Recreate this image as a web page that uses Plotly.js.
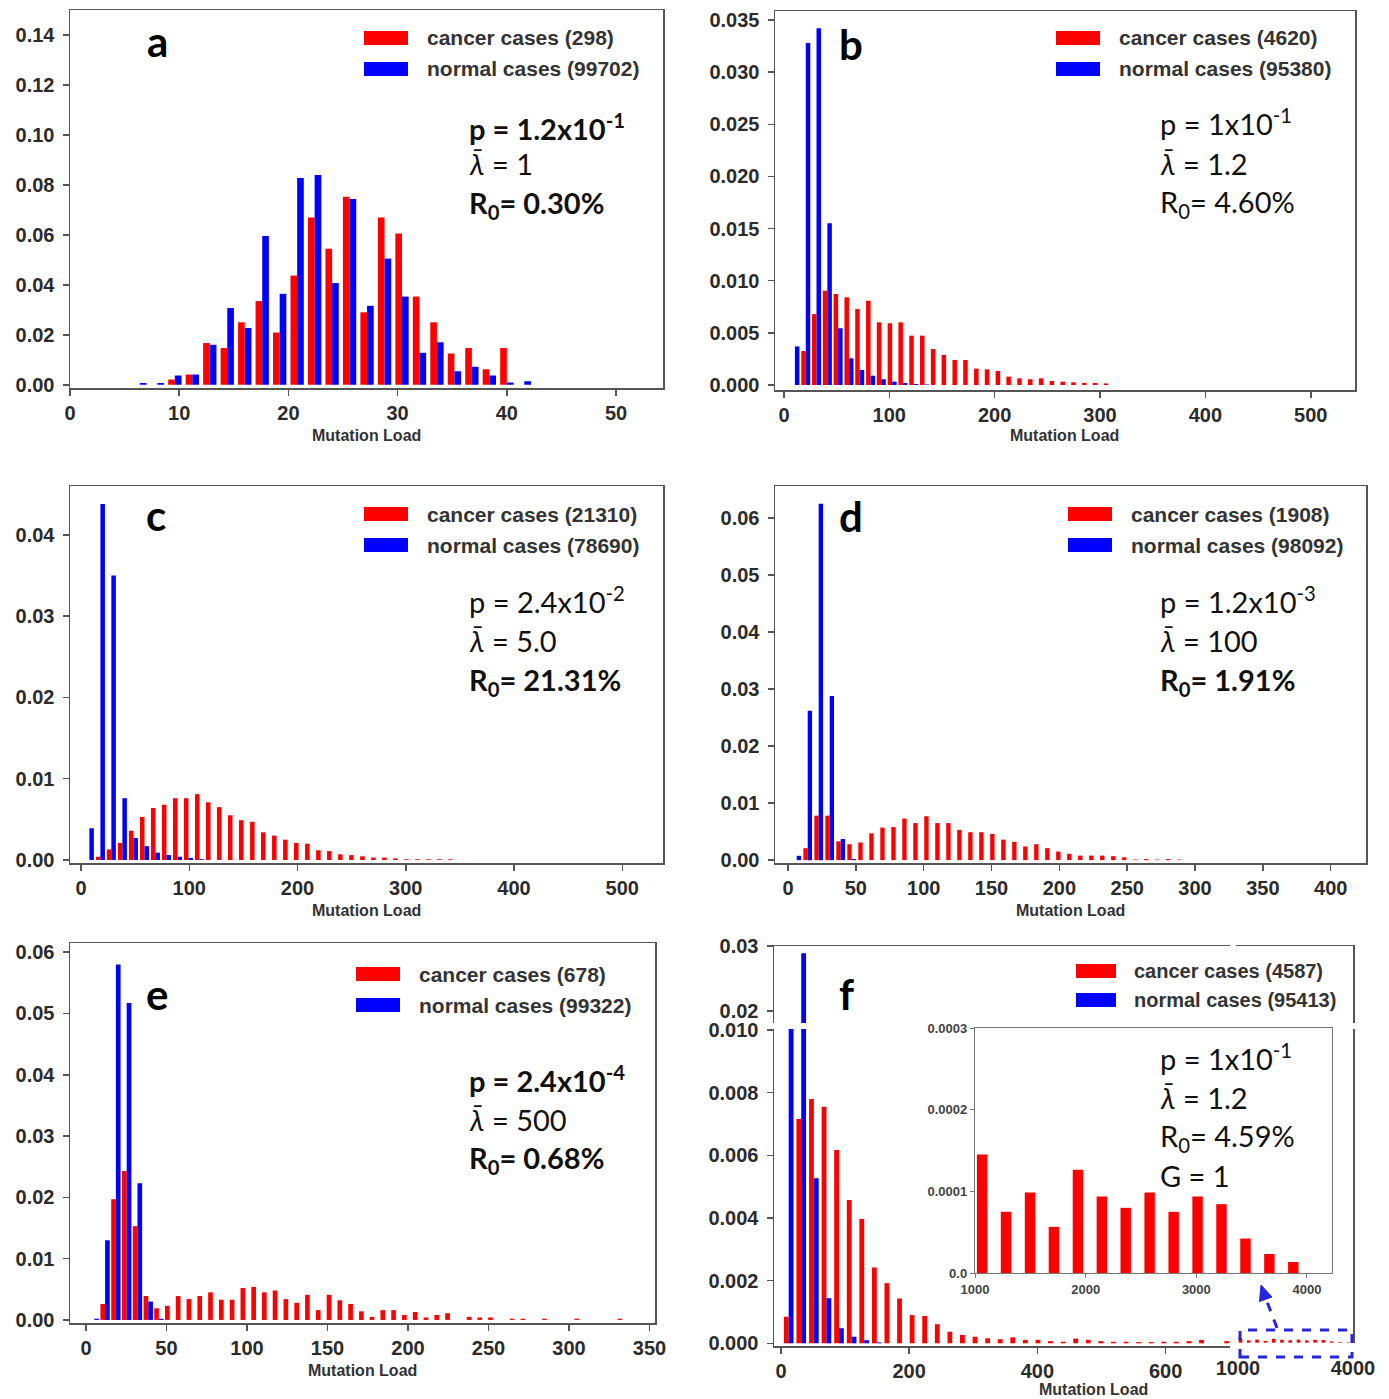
<!DOCTYPE html>
<html><head><meta charset="utf-8">
<script src="https://cdn.plot.ly/plotly-3.0.1.min.js"></script>
<style>html,body{margin:0;padding:0;background:#fff}#chart{width:1389px;height:1399px}</style>
</head><body><div id="chart"></div>
<script>
// ---------------- data ----------------
const aBins=[6.4,8.0,9.6,11.2,12.8,14.4,16.0,17.6,19.2,20.8,22.4,24.0,25.6,27.2,28.8,30.4,32.0,33.6,35.2,36.8,38.4,40.0,41.6];
const aCancer=[0,0,0.0021,0.0041,0.0167,0.0147,0.025,0.0335,0.0209,0.0437,0.0669,0.0544,0.0753,0.029,0.0669,0.0605,0.0353,0.025,0.0125,0.0147,0.0062,0.0147,0];
const aNormal=[0.0007,0.0007,0.0037,0.0041,0.016,0.0307,0.0227,0.0595,0.0364,0.0828,0.084,0.0407,0.0743,0.0316,0.0505,0.0353,0.0128,0.017,0.0054,0.0072,0.0037,0.0009,0.0014];

const bBins=[10.4,20.7,30.9,41.2,51.4,61.7,71.9,82.2,92.4,102.7,112.9,123.2,133.4,143.7,153.9,164.2,174.4,184.7,194.9,205.2,215.4,225.7,235.9,246.2,256.4,266.7,276.9,287.2,297.4,307.7];
const bCancer=[0,0.00326,0.0068,0.00904,0.00873,0.00841,0.00729,0.00808,0.00601,0.00592,0.00601,0.00473,0.00473,0.00345,0.00288,0.0024,0.0024,0.00157,0.0015,0.00134,0.0008,0.00064,0.00055,0.00064,0.00038,0.00032,0.00026,0.0002,0.0002,0.00015];
const bNormal=[0.0037,0.0328,0.0342,0.0155,0.00544,0.00256,0.00144,0.00089,0.00055,0.00032,0.0002,0.0001,0.00005];

const cBins=[7.7,17.9,28.0,38.2,48.4,58.6,68.7,78.9,89.1,99.2,109.4,119.6,129.7,139.9,150.1,160.3,170.4,180.6,190.8,200.9,211.1,221.3,231.4,241.6,251.8,262.0,272.1,282.3,292.5,302.6,312.8,323.0,333.1,343.3];
const cCancer=[0,0.0004,0.0013,0.0021,0.0036,0.0053,0.0064,0.0068,0.0076,0.0076,0.0081,0.0071,0.0065,0.0055,0.0049,0.0047,0.0034,0.003,0.0025,0.0021,0.002,0.0012,0.0011,0.0007,0.0006,0.00045,0.0003,0.0003,0.0002,0.0001,0.0001,0.0001,0.0001,0.0001];
const cNormal=[0.0039,0.0438,0.035,0.0076,0.0027,0.0017,0.0009,0.0006,0.0004,0.00025,0.0001];

const dBins=[6.4,14.5,22.6,30.7,38.8,46.9,55.0,63.1,71.2,79.3,87.4,95.5,103.6,111.7,119.8,127.9,136.0,144.1,152.2,160.3,168.4,176.5,184.6,192.7,200.8,208.9,217.0,225.1,233.2,241.3,249.4,257.5,265.6,273.7,281.8,289.9];
const dCancer=[0,0.0021,0.0078,0.0078,0.0033,0.0028,0.0031,0.0047,0.0057,0.0058,0.0073,0.0065,0.0077,0.0065,0.0065,0.0053,0.0049,0.0049,0.0046,0.0036,0.0032,0.0024,0.0028,0.0021,0.0015,0.0011,0.0008,0.0008,0.0008,0.0007,0.0005,0.0001,0.0002,0.0001,0.0002,0.0001];
const dNormal=[0.00076,0.0262,0.0625,0.0288,0.0037,0.0002];

const eBins=[5.2,11.9,18.6,25.3,32.0,38.7,45.3,52.0,58.7,65.4,72.1,78.8,85.5,92.2,98.9,105.6,112.2,118.9,125.6,132.3,139.0,145.7,152.4,159.1,165.8,172.5,179.1,185.8,192.5,199.2,205.9,212.6,219.3,226.0,232.7,239.4,246.0,252.7,259.4,266.1,272.8,279.5,286.2,292.9,299.6,306.3,312.9,319.6,326.3,333.0];
const eCancer=[0,0.0026,0.0197,0.0243,0.0153,0.0039,0.0019,0.0023,0.0039,0.0034,0.0039,0.0045,0.0033,0.0033,0.0052,0.0054,0.0045,0.0048,0.0034,0.0028,0.0041,0.0016,0.0041,0.0032,0.0026,0.0014,0.0005,0.0016,0.0016,0.0008,0.0013,0.0004,0.0008,0.0011,0,0.0005,0.0004,0.0004,0,0.0002,0.0002,0,0.0002,0,0,0.0002,0,0,0,0.0002];
const eNormal=[0.0002,0.013,0.058,0.0517,0.0223,0.003,0.0002];

const fBins=[12.0,31.6,51.3,70.9,90.5,110.2,129.8,149.4,169.0,188.7,208.3,227.9,247.6,267.2,286.8,306.5,326.1,345.7,365.3,385.0,404.6,424.2,443.9,463.5,483.1,502.8,522.4,542.0,561.6,581.3,600.9,620.5,640.2,659.8,679.4,699.1];
const fCancer=[0.00085,0.00716,0.0078,0.00755,0.00617,0.00457,0.00397,0.00242,0.00192,0.00143,0.0009,0.00087,0.00061,0.00037,0.00027,0.00021,0.00016,0.00013,0.00019,0.00011,0.00011,0.00007,0.00005,0.00015,0.00011,0.00007,0.00005,0.00005,0.00004,0.00004,0.00005,0.00005,0.00007,0.00011,0,0.00007];
const fNormal=[0.012,0.0289,0.00527,0.00144,0.00048,0.00021,0.0001,0.00003];
const fTailBins=[1064,1280,1497,1713,1930,2146,2362,2578,2795,3011,3227,3444,3660,3876];
const fTailCancer=[0.000145,0.000075,0.0000986,0.0000565,0.0001265,0.0000937,0.0000798,0.0000986,0.0000749,0.0000937,0.0000843,0.0000422,0.0000233,0.0000135];

const legendA=['cancer cases (298)','normal cases (99702)'];
const legendB=['cancer cases (4620)','normal cases (95380)'];
const legendC=['cancer cases (21310)','normal cases (78690)'];
const legendD=['cancer cases (1908)','normal cases (98092)'];
const legendE=['cancer cases (678)','normal cases (99322)'];
const legendF=['cancer cases (4587)','normal cases (95413)'];

const LAM='<i>\u03bb\u0304</i>';
const statsA=['p = 1.2x10<sup>-1</sup>',LAM+' = 1','R<sub>0</sub>= 0.30%'];
const statsB=['p = 1x10<sup>-1</sup>',LAM+' = 1.2','R<sub>0</sub>= 4.60%'];
const statsC=['p = 2.4x10<sup>-2</sup>',LAM+' = 5.0','R<sub>0</sub>= 21.31%'];
const statsD=['p = 1.2x10<sup>-3</sup>',LAM+' = 100','R<sub>0</sub>= 1.91%'];
const statsE=['p = 2.4x10<sup>-4</sup>',LAM+' = 500','R<sub>0</sub>= 0.68%'];
const statsF=['p = 1x10<sup>-1</sup>',LAM+' = 1.2','R<sub>0</sub>= 4.59%','G = 1'];
const axisLabel='Mutation Load';

// ---------------- helpers ----------------
const W=1389,H=1399;
const px=x=>x/W, py=y=>1-y/H;
const dX=(a,b)=>[px(a),px(b)];
const dY=(t,b)=>[py(b),py(t)];
const RED='#ff0000', BLUE='#0000ff', LINE='#555';
const TICKFONT={family:'"Liberation Sans", Arial, sans-serif',size:20,color:'#2b2b2b',weight:'bold'};
const LEGFONT={family:'"Liberation Sans", Arial, sans-serif',size:21,color:'#333',weight:'bold'};
const LABFONT={family:'"Liberation Sans", Arial, sans-serif',size:16,color:'#333',weight:'bold'};
const STATFONT={family:'Lato, "Open Sans", sans-serif',size:29,color:'#111'};
const LETTERFONT={family:'Lato, "Open Sans", sans-serif',size:42,color:'#000',weight:'bold'};

function axis(o){return Object.assign({showline:true,linecolor:LINE,linewidth:1.5,ticks:'outside',ticklen:6,tickwidth:1.5,tickcolor:LINE,tickfont:TICKFONT,showgrid:false,zeroline:false,fixedrange:true},o);}
function yaxis(o){return axis(Object.assign({ticklabelstandoff:4},o));}
function pair(bins,cancer,normal,w,xa,ya){
  return [
    {type:'bar',x:bins,y:cancer,width:w,offset:-w,marker:{color:RED,line:{width:0}},xaxis:xa,yaxis:ya,hoverinfo:'skip'},
    {type:'bar',x:bins.slice(0,normal.length),y:normal,width:w,offset:0,marker:{color:BLUE,line:{width:0}},xaxis:xa,yaxis:ya,hoverinfo:'skip'}
  ];
}
function ann(x,y,text,font,xanchor){return {xref:'paper',yref:'paper',x:px(x),y:py(y),text:text,showarrow:false,xanchor:xanchor||'left',yanchor:'middle',font:font};}
function rect(x0,y0,x1,y1,color){return {type:'rect',xref:'paper',yref:'paper',x0:px(x0),x1:px(x1),y0:py(y1),y1:py(y0),fillcolor:color,line:{width:0},layer:'above'};}

// ---------------- traces ----------------
let data=[];
data=data.concat(pair(aBins,aCancer,aNormal,0.61,'x','y'));
data=data.concat(pair(bBins,bCancer,bNormal,4.27,'x2','y2'));
data=data.concat(pair(cBins,cCancer,cNormal,4.16,'x3','y3'));
data=data.concat(pair(dBins,dCancer,dNormal,3.2,'x4','y4'));
data=data.concat(pair(eBins,eCancer,eNormal,2.9,'x5','y5'));
data=data.concat(pair(fBins,fCancer,fNormal,7.5,'x6','y6'));
data=data.concat(pair(fBins,fCancer,fNormal,7.5,'x7','y7'));
data.push({type:'bar',x:fTailBins,y:fTailCancer,width:94,offset:-47,marker:{color:RED},xaxis:'x8',yaxis:'y8',hoverinfo:'skip'});
data.push({type:'bar',x:fTailBins,y:fTailCancer,width:94,offset:-47,marker:{color:RED},xaxis:'x9',yaxis:'y9',hoverinfo:'skip'});
data.push({type:'bar',x:fTailBins,y:fTailCancer,width:94,offset:-47,marker:{color:RED},xaxis:'x10',yaxis:'y10',hoverinfo:'skip'});

// ---------------- layout ----------------
const fLowRange=[-0.000086,0.01003], fUpRange=[0.01815,0.03];
const fX1=[-10.9,700.5], fX2=[948,4000];
const INSETFONT={family:'"Liberation Sans", Arial, sans-serif',size:13,color:'#444',weight:'bold'};
const layout={
  width:W,height:H,margin:{l:0,r:0,t:0,b:0},paper_bgcolor:'#fff',plot_bgcolor:'rgba(0,0,0,0)',
  barmode:'overlay',showlegend:false,
  xaxis: axis({domain:dX(70,663),range:[0,54.3],tick0:0,dtick:10,mirror:true,anchor:'y'}),
  yaxis: yaxis({domain:dY(10,388),range:[-0.0013,0.15],tick0:0,dtick:0.02,tickformat:'.2f',mirror:true,anchor:'x'}),
  xaxis2:axis({domain:dX(775,1355),range:[-8.5,542],tick0:0,dtick:100,mirror:true,anchor:'y2'}),
  yaxis2:yaxis({domain:dY(11,390),range:[-0.00048,0.03586],tick0:0,dtick:0.005,tickformat:'.3f',mirror:true,anchor:'x2'}),
  xaxis3:axis({domain:dX(70,663),range:[-10.2,537.6],tick0:0,dtick:100,mirror:true,anchor:'y3'}),
  yaxis3:yaxis({domain:dY(486,863),range:[-0.00037,0.046],tick0:0,dtick:0.01,tickformat:'.2f',mirror:true,anchor:'x3'}),
  xaxis4:axis({domain:dX(775,1366),range:[-9.6,426],tick0:0,dtick:50,mirror:true,anchor:'y4'}),
  yaxis4:yaxis({domain:dY(486,863),range:[-0.0005,0.0656],tick0:0,dtick:0.01,tickformat:'.2f',mirror:true,anchor:'x4'}),
  xaxis5:axis({domain:dX(70,655),range:[-9.9,353.4],tick0:0,dtick:50,mirror:true,anchor:'y5'}),
  yaxis5:yaxis({domain:dY(943,1323),range:[-0.0005,0.0615],tick0:0,dtick:0.01,tickformat:'.2f',mirror:true,anchor:'x5'}),
  // panel f, broken axes
  xaxis6:axis({domain:dX(774,1230),range:fX1,tickvals:[0,200,400,600],anchor:'y6'}),
  yaxis6:yaxis({domain:dY(1029,1346),range:fLowRange,tickvals:[0,0.002,0.004,0.006,0.008,0.010],tickformat:'.3f',anchor:'x6'}),
  xaxis7:axis({domain:dX(774,1230),range:fX1,side:'top',ticks:'',showticklabels:false,anchor:'y7'}),
  yaxis7:yaxis({domain:dY(946,1023),range:fUpRange,tickvals:[0.02,0.03],tickformat:'.2f',anchor:'x7'}),
  xaxis8:axis({domain:dX(1236,1353),range:fX2,tickvals:[1000,4000],showline:false,tickcolor:'rgba(0,0,0,0)',ticklen:7,anchor:'y8'}),
  yaxis8:axis({domain:dY(1029,1343),range:[-0.00001,0.01003],side:'right',ticks:'',showticklabels:false,anchor:'x8'}),
  xaxis9:axis({domain:dX(1236,1353),range:fX2,side:'top',ticks:'',showticklabels:false,anchor:'y9'}),
  yaxis9:axis({domain:dY(946,1023),range:fUpRange,side:'right',ticks:'',showticklabels:false,anchor:'x9'}),
  // inset
  xaxis10:axis({domain:dX(975,1332),range:[1000,4226],tickvals:[1000,2000,3000,4000],mirror:true,linecolor:'#777',linewidth:1.2,tickcolor:'#777',ticklen:4,tickwidth:1,tickfont:INSETFONT,anchor:'y10'}),
  yaxis10:axis({domain:dY(1028,1273),range:[0,0.0003],tickvals:[0,0.0001,0.0002,0.0003],ticktext:['0.0','0.0001','0.0002','0.0003'],mirror:true,linecolor:'#777',linewidth:1.2,tickcolor:'#777',ticklen:4,tickwidth:1,tickfont:INSETFONT,anchor:'x10'}),
  shapes:[],annotations:[]
};

// legends, letters, stats, axis labels
const panels=[
  {leg:legendA,stats:statsA,bold:[1,0,1],patch:364,text:425,ly:[38,69],letter:['a',157,41],sx:467,sy:[127,163,204],lab:[366,435],lsize:21},
  {leg:legendB,stats:statsB,bold:[0,0,0],patch:1056,text:1117,ly:[38,69],letter:['b',851,44],sx:1158,sy:[122,163,203],lab:[1064,435],lsize:21},
  {leg:legendC,stats:statsC,bold:[0,0,1],patch:364,text:425,ly:[514,545],letter:['c',156,515],sx:467,sy:[600,640,681],lab:[366,910],lsize:21},
  {leg:legendD,stats:statsD,bold:[0,0,1],patch:1068,text:1129,ly:[514,545],letter:['d',851,516],sx:1158,sy:[600,640,681],lab:[1070,910],lsize:21},
  {leg:legendE,stats:statsE,bold:[1,0,1],patch:356,text:417,ly:[974,1005],letter:['e',157,994],sx:467,sy:[1079,1119,1159],lab:[362,1370],lsize:21},
  {leg:legendF,stats:statsF,bold:[0,0,0,0],patch:1076,text:1132,ly:[971,1000],letter:['f',846,994],sx:1158,sy:[1057,1097,1137,1175],lab:[1093,1389],lsize:20,pw:40}
];
panels.forEach(p=>{
  const pw=p.pw||44;
  layout.shapes.push(rect(p.patch,p.ly[0]-7,p.patch+pw,p.ly[0]+7,RED));
  layout.shapes.push(rect(p.patch,p.ly[1]-7,p.patch+pw,p.ly[1]+7,BLUE));
  const lf=Object.assign({},LEGFONT,{size:p.lsize});
  layout.annotations.push(ann(p.text,p.ly[0],p.leg[0],lf));
  layout.annotations.push(ann(p.text,p.ly[1],p.leg[1],lf));
  layout.annotations.push(ann(p.letter[1],p.letter[2],p.letter[0],LETTERFONT,'center'));
  p.stats.forEach((s,i)=>{
    layout.annotations.push(ann(p.sx,p.sy[i],s,Object.assign({},STATFONT,{weight:p.bold[i]?'bold':'normal'})));
  });
  layout.annotations.push(ann(p.lab[0],p.lab[1],axisLabel,LABFONT,'center'));
});

// zoom box and dashed arrow in panel f
const ZC='#2525e0';
layout.shapes.push({type:'rect',xref:'paper',yref:'paper',x0:px(1240),x1:px(1352),y0:py(1357),y1:py(1330),line:{color:ZC,width:3,dash:'dash'},layer:'above'});
layout.shapes.push({type:'line',xref:'paper',yref:'paper',x0:px(1277),y0:py(1328),x1:px(1266),y1:py(1299),line:{color:ZC,width:3,dash:'dash'},layer:'above'});
const P=(x,y)=>px(x)+','+py(y);
layout.shapes.push({type:'path',xref:'paper',yref:'paper',path:'M'+P(1261,1285)+' L'+P(1272,1297)+' L'+P(1259.5,1301.5)+' Z',fillcolor:ZC,line:{color:ZC,width:1},layer:'above'});

Plotly.newPlot('chart',data,layout,{staticPlot:true,displayModeBar:false});
</script></body></html>
